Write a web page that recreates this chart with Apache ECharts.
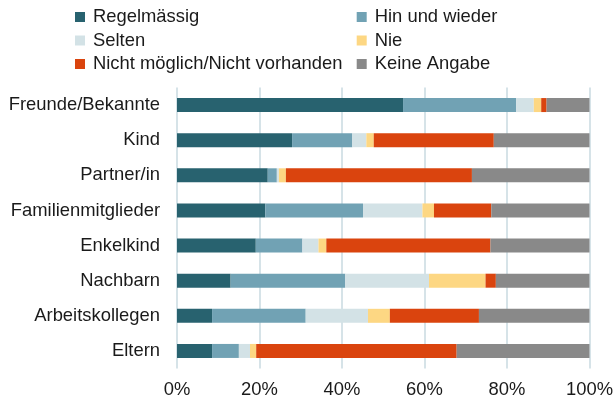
<!DOCTYPE html>
<html>
<head>
<meta charset="utf-8">
<script src="https://cdn.jsdelivr.net/npm/echarts@6/dist/echarts.min.js"></script>
<style>html,body{margin:0;padding:0;background:#fff;}#c{width:616px;height:403px;}</style>
</head>
<body>
<div id="c"></div>
<script>
const categories = ["Freunde/Bekannte","Kind","Partner/in","Familienmitglieder","Enkelkind","Nachbarn","Arbeitskollegen","Eltern"];
const regelmaessig = [54.8, 27.9, 22.0, 21.4, 19.1, 13.0, 8.5, 8.5];
const hinUndWieder = [27.4, 14.6, 2.2, 23.7, 11.3, 27.8, 22.7, 6.5];
const selten = [4.3, 3.4, 0.5, 14.4, 3.9, 20.3, 15.1, 2.7];
const nie = [1.8, 1.8, 1.7, 2.8, 1.9, 13.7, 5.3, 1.5];
const nichtMoeglich = [1.3, 29.1, 45.1, 13.9, 39.8, 2.5, 21.6, 48.6];
const keineAngabe = [10.4, 23.2, 28.5, 23.8, 24.0, 22.7, 26.8, 32.2];
const seriesNames = ["Regelmässig","Hin und wieder","Selten","Nie","Nicht möglich/Nicht vorhanden","Keine Angabe"];
const seriesColors = ["#28626f","#71a2b4","#d3e2e6","#fdd783","#da440e","#898989"];
const xTicks = [0, 20, 40, 60, 80, 100];

const allData = [regelmaessig, hinUndWieder, selten, nie, nichtMoeglich, keineAngabe];
const font = "Liberation Sans, Arial, sans-serif";
const fs = 18.4;
const chart = echarts.init(document.getElementById('c'), null, {renderer: 'canvas'});
const legendBase = {
  orient: 'vertical', top: 8, padding: 0, itemWidth: 10, itemHeight: 10, itemGap: 5.5, icon: 'rect',
  textStyle: {fontFamily: font, fontSize: fs, color: '#1a1a1a', lineHeight: 18, padding: [0,0,0,3]},
  selectedMode: false
};
chart.setOption({
  animation: false,
  backgroundColor: '#fff',
  legend: [
    Object.assign({}, legendBase, {left: 75, data: [seriesNames[0], seriesNames[2], seriesNames[4]]}),
    Object.assign({}, legendBase, {left: 356.7, data: [seriesNames[1], seriesNames[3], seriesNames[5]]})
  ],
  grid: {left: 177, right: 24.3, top: 87.5, bottom: 34.5, containLabel: false},
  xAxis: {
    type: 'value', min: 0, max: 100, interval: 20,
    axisLine: {show: false}, axisTick: {show: false},
    splitLine: {show: true, lineStyle: {color: '#c8dae1', width: 1.5}},
    axisLabel: {fontFamily: font, fontSize: fs, color: '#1a1a1a', margin: 12, formatter: v => xTicks.includes(v) ? v + '%' : ''}
  },
  yAxis: {
    type: 'category', data: categories, inverse: true,
    axisLine: {show: false}, axisTick: {show: false},
    axisLabel: {fontFamily: font, fontSize: fs, color: '#1a1a1a', margin: 17}
  },
  series: seriesNames.map((n, i) => ({
    name: n, type: 'bar', stack: 'total', barWidth: 14,
    itemStyle: {color: seriesColors[i]},
    data: allData[i]
  }))
});
</script>
</body>
</html>
